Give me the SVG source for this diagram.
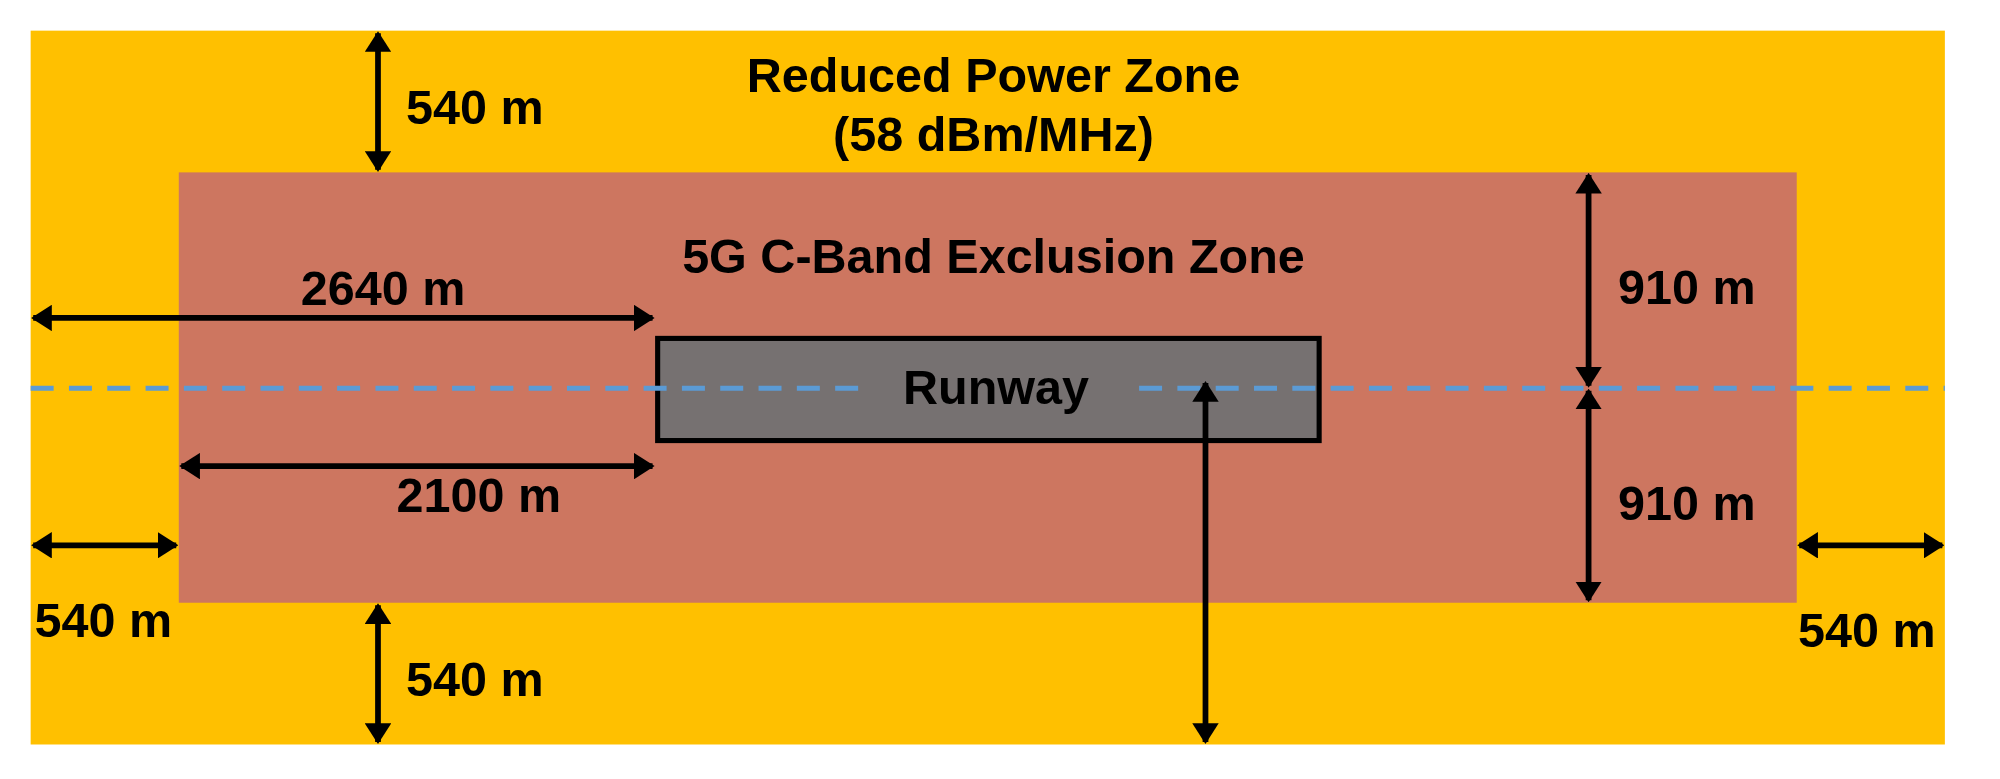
<svg xmlns="http://www.w3.org/2000/svg" width="2000" height="779" viewBox="0 0 2000 779">
<defs>
<marker id="ah" viewBox="0 0 10 10" refX="9" refY="5" markerWidth="3.6" markerHeight="4.6" orient="auto-start-reverse" markerUnits="strokeWidth" preserveAspectRatio="none"><path d="M0,0 L10,5 L0,10 z" fill="#000"/></marker>
<style>
text{font-family:"Liberation Sans",Arial,sans-serif;font-weight:bold;font-size:38px;fill:#000}
.dim{stroke:#000;stroke-width:4.5;fill:none;marker-start:url(#ah);marker-end:url(#ah)}
.c{text-anchor:middle}
</style>
</defs>
<rect width="2000" height="779" fill="#fff"/>
<g transform="scale(1.277)">
<g id="reduced"><rect x="24" y="24" width="1499" height="559" fill="#ffc000"/>
<text class="c" x="778" y="72">Reduced Power Zone</text>
<text class="c" x="778" y="118">(58 dBm/MHz)</text></g>
<g id="exclusion"><rect x="140" y="135" width="1267" height="337" fill="#cd7660"/>
<text class="c" x="778" y="214">5G C-Band Exclusion Zone</text></g>
<g id="runway"><rect x="515" y="265" width="518" height="80" fill="#767171" stroke="#000" stroke-width="4"/>
<text class="c" x="780" y="316">Runway</text></g>
<g id="centerline" stroke="#5b9bd5" stroke-width="4" stroke-dasharray="18,12"><line x1="24" y1="304" x2="672" y2="304"/><line x1="892" y1="304" x2="1523" y2="304"/></g>
<g id="connectors">
<line class="dim" x1="296" y1="26" x2="296" y2="133"/>
<line class="dim" x1="296" y1="474" x2="296" y2="581"/>
<line class="dim" x1="26" y1="249" x2="511" y2="249"/>
<line class="dim" x1="142" y1="365" x2="511" y2="365"/>
<line class="dim" x1="26" y1="427" x2="138" y2="427"/>
<line class="dim" x1="1409" y1="427" x2="1521" y2="427"/>
<line class="dim" x1="1244" y1="137" x2="1244" y2="302"/>
<line class="dim" x1="1244" y1="306" x2="1244" y2="470"/>
<line class="dim" x1="944" y1="300" x2="944" y2="581"/>
</g>
<g id="labels">
<text x="318" y="97">540 m</text>
<text x="318" y="545">540 m</text>
<text class="c" x="300" y="239">2640 m</text>
<text class="c" x="375" y="401">2100 m</text>
<text x="27" y="499">540 m</text>
<text x="1408" y="507">540 m</text>
<text x="1267" y="238">910 m</text>
<text x="1267" y="407">910 m</text>
</g>
</g>
</svg>
